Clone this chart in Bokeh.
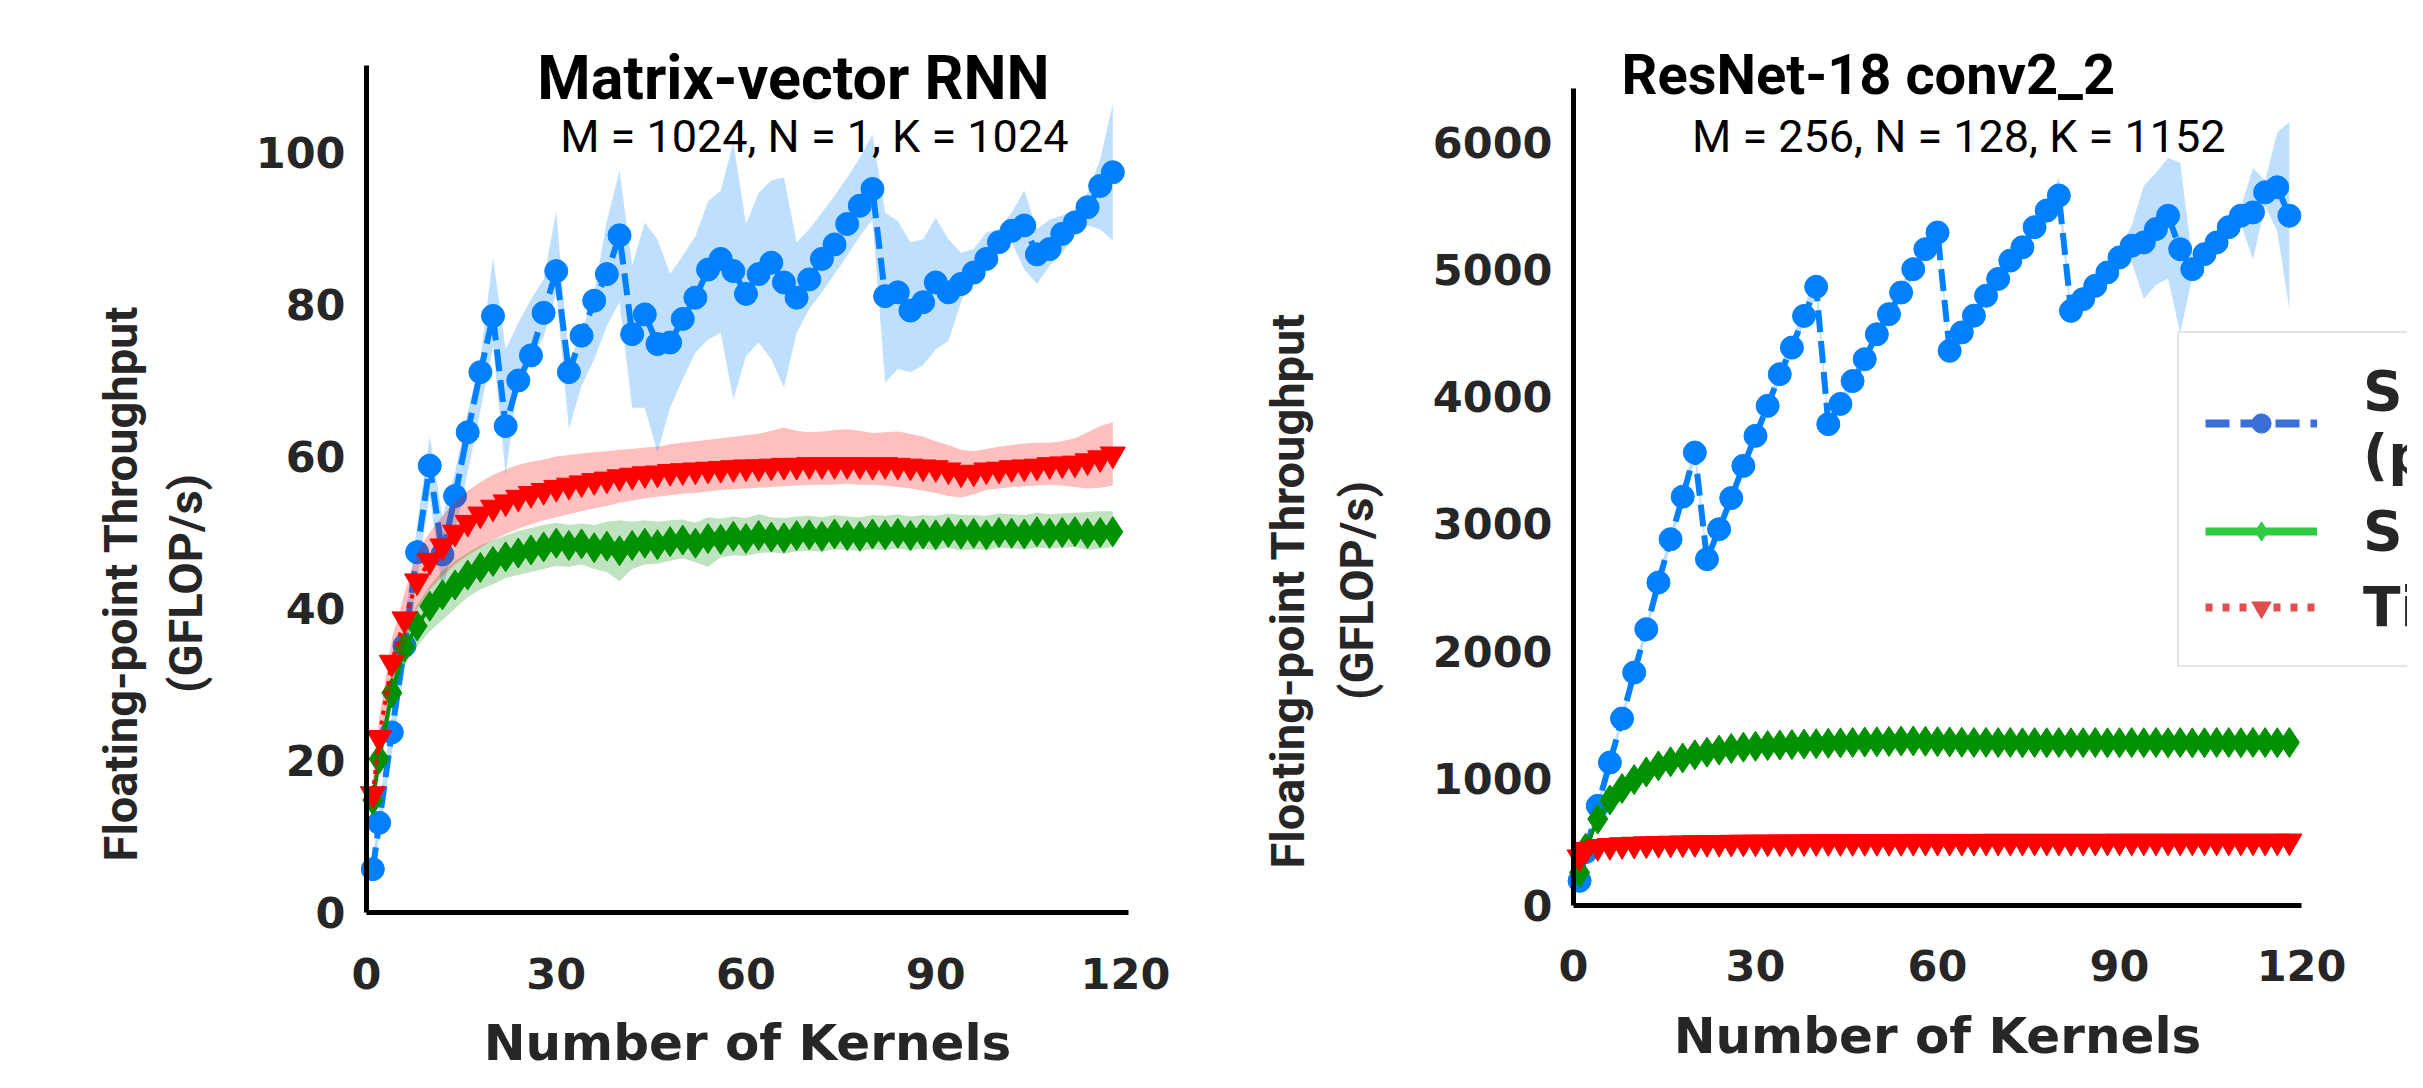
import math
from bokeh.plotting import figure
from bokeh.models import Range1d, Label, Legend, LegendItem, FixedTicker
from bokeh.layouts import row
from bokeh.embed import file_html
from bokeh.resources import INLINE

# ---------------- data ----------------
kernels = [1, 2, 4, 6, 8, 10, 12, 14, 16, 18, 20, 22, 24, 26, 28, 30, 32, 34, 36, 38,
           40, 42, 44, 46, 48, 50, 52, 54, 56, 58, 60, 62, 64, 66, 68, 70, 72, 74, 76, 78,
           80, 82, 84, 86, 88, 90, 92, 94, 96, 98, 100, 102, 104, 106, 108, 110, 112, 114, 116, 118]

x_ticks = [0, 30, 60, 90, 120]
rnn_y_ticks = [0, 20, 40, 60, 80, 100]
conv_y_ticks = [0, 1000, 2000, 3000, 4000, 5000, 6000]

# Matrix-vector RNN
rnn_blue = [5.7, 11.8, 23.7, 35.1, 47.4, 58.8, 47.1, 54.8, 63.2, 71.1, 78.5, 64.0, 70.0, 73.3, 78.9,
            84.4, 71.1, 75.9, 80.5, 84.0, 89.1, 76.1, 78.7, 74.8, 75.0, 78.1, 80.9, 84.6, 86.0, 84.4,
            81.4, 84.0, 85.5, 82.9, 80.9, 83.3, 86.0, 87.9, 90.6, 93.0, 95.2, 81.1, 81.6, 79.2, 80.3,
            82.9, 81.6, 82.7, 84.2, 86.0, 88.2, 89.7, 90.4, 86.6, 87.3, 89.3, 90.8, 92.8, 95.6, 97.4]
rnn_blue_lo = [4.5, 10.0, 21.0, 32.0, 44.0, 55.0, 42.0, 50.0, 58.0, 66.0, 74.6, 57.5, 70.2, 72.8, 75.7,
               81.6, 63.6, 69.3, 72.8, 77.2, 80.3, 66.4, 66.4, 60.5, 66.4, 70.2, 73.7, 75.4, 76.3, 67.5,
               73.2, 75.0, 72.8, 69.1, 76.3, 79.4, 81.6, 84.0, 86.4, 89.0, 91.2, 69.7, 71.5, 71.1, 72.0,
               74.1, 75.2, 80.3, 84.0, 85.6, 87.3, 88.2, 84.6, 82.7, 85.1, 86.8, 89.0, 90.4, 89.9, 88.4]
rnn_blue_hi = [7.0, 14.0, 26.0, 38.0, 51.0, 62.7, 52.0, 58.0, 65.8, 72.8, 86.2, 74.1, 77.6, 80.7, 83.3,
               92.3, 72.4, 76.3, 81.6, 91.0, 97.6, 85.1, 90.8, 88.6, 84.0, 86.4, 89.0, 93.6, 95.0, 101.3,
               90.6, 94.7, 96.3, 96.7, 88.2, 89.9, 92.1, 94.3, 96.7, 99.3, 102.4, 92.1, 91.0, 88.2, 88.6,
               91.4, 88.6, 86.8, 87.3, 89.5, 89.9, 92.1, 95.0, 89.9, 91.2, 91.7, 92.5, 94.7, 99.1, 106.4]

rnn_green = [14.8, 20.2, 28.9, 34.9, 37.7, 40.3, 41.8, 43.1, 44.4, 45.4, 46.2, 46.8, 47.3, 47.7, 48.1,
             48.6, 48.3, 48.5, 48.0, 48.2, 47.6, 48.3, 48.6, 48.4, 48.8, 49.0, 48.6, 49.2, 49.1, 49.5,
             49.2, 49.6, 49.4, 49.3, 49.6, 49.7, 49.5, 49.8, 49.6, 49.5, 49.8, 49.7, 49.9, 49.6, 49.8,
             49.7, 50.0, 49.8, 49.9, 49.7, 50.0, 49.9, 49.8, 50.1, 49.9, 50.0, 50.1, 49.9, 50.0, 50.1]
rnn_green_lo = [13.5, 18.8, 27.0, 32.5, 35.0, 37.0, 38.5, 40.0, 41.5, 42.5, 43.2, 44.0, 44.4, 44.8, 45.2,
                45.6, 45.5, 45.8, 45.2, 44.8, 43.6, 45.2, 45.8, 45.9, 46.3, 46.6, 46.1, 45.5, 46.7, 47.0,
                46.9, 47.3, 47.4, 47.2, 47.5, 47.6, 47.5, 47.8, 47.7, 47.6, 47.8, 47.7, 47.9, 47.6, 47.9,
                47.7, 48.0, 47.6, 47.8, 47.7, 48.0, 47.9, 47.8, 48.0, 47.9, 48.0, 48.1, 47.7, 47.9, 48.1]
rnn_green_hi = [16.0, 21.8, 31.0, 37.5, 40.5, 43.0, 45.0, 46.3, 47.3, 48.3, 49.0, 49.6, 50.2, 50.6, 51.0,
                51.3, 51.0, 51.2, 51.0, 51.4, 51.6, 51.4, 51.6, 51.4, 51.6, 51.7, 51.3, 52.0, 51.8, 52.1,
                51.9, 52.4, 52.0, 51.9, 52.1, 52.2, 52.0, 52.3, 52.1, 52.0, 52.3, 52.2, 52.4, 52.1, 52.3,
                52.2, 52.5, 52.3, 52.3, 52.2, 52.5, 52.4, 52.3, 52.6, 52.4, 52.5, 52.6, 52.7, 52.8, 52.8]

rnn_red = [15.6, 23.0, 32.9, 38.6, 43.6, 46.3, 48.2, 50.0, 51.3, 52.4, 53.3, 54.0, 54.6, 55.1, 55.5,
           55.9, 56.2, 56.5, 56.8, 57.0, 57.3, 57.5, 57.7, 57.8, 58.0, 58.1, 58.2, 58.3, 58.4, 58.5,
           58.6, 58.6, 58.7, 58.8, 58.8, 58.9, 58.9, 58.9, 58.9, 58.9, 58.8, 58.9, 58.8, 58.7, 58.6,
           58.5, 58.2, 57.8, 57.9, 58.2, 58.3, 58.5, 58.6, 58.7, 58.9, 59.0, 59.1, 59.4, 59.8, 60.3]
rnn_red_lo = [14.0, 21.0, 30.0, 35.5, 40.0, 42.5, 44.2, 45.8, 47.0, 48.0, 49.0, 49.8, 50.5, 51.1, 51.6,
              52.0, 52.4, 52.8, 53.2, 53.5, 53.9, 54.2, 54.5, 54.7, 54.9, 55.1, 55.2, 55.4, 55.6, 55.7,
              55.8, 55.9, 56.0, 56.1, 56.2, 56.3, 56.3, 56.3, 56.4, 56.3, 56.3, 56.2, 56.0, 55.8, 55.5,
              55.2, 54.8, 54.6, 55.0, 55.6, 55.8, 56.0, 56.1, 56.2, 56.3, 56.2, 56.0, 55.8, 55.9, 56.2]
rnn_red_hi = [17.5, 25.5, 36.0, 42.0, 47.5, 50.0, 52.2, 54.0, 55.5, 56.6, 57.6, 58.3, 58.9, 59.3, 59.6,
              60.0, 60.2, 60.4, 60.6, 60.7, 60.9, 61.0, 61.2, 61.3, 61.6, 61.8, 62.0, 62.2, 62.4, 62.6,
              62.8, 63.0, 63.4, 63.8, 63.4, 63.2, 63.3, 63.5, 63.6, 63.4, 63.1, 63.2, 63.3, 63.0, 62.6,
              62.0, 61.5, 60.9, 60.7, 61.0, 61.3, 61.5, 61.7, 61.8, 61.8, 62.0, 62.4, 63.2, 64.0, 64.5]

# ResNet-18 conv2_2
conv_blue = [194, 420, 784, 1124, 1470, 1832, 2173, 2540, 2880, 3215, 3562, 2723, 2959, 3204, 3457,
             3693, 3929, 4178, 4387, 4636, 4865, 3785, 3944, 4124, 4296, 4492, 4650, 4820, 5004, 5161,
             5292, 4362, 4506, 4638, 4795, 4927, 5071, 5176, 5334, 5465, 5583, 4676, 4768, 4873, 4978,
             5096, 5188, 5214, 5319, 5424, 5161, 5004, 5122, 5214, 5334, 5424, 5450, 5608, 5648, 5424]
conv_blue_lo = [170, 390, 750, 1090, 1430, 1790, 2130, 2490, 2830, 3160, 3500, 2680, 2910, 3150, 3400,
                3640, 3880, 4120, 4330, 4570, 4790, 3740, 3900, 4070, 4240, 4440, 4600, 4760, 4950, 5100,
                5230, 4320, 4460, 4590, 4740, 4870, 5010, 5110, 5270, 5400, 5500, 4630, 4720, 4820, 4920,
                5030, 5060, 4770, 4880, 4930, 4500, 4940, 5060, 5150, 5270, 5360, 5080, 5500, 5300, 4690]
conv_blue_hi = [220, 450, 820, 1160, 1510, 1870, 2220, 2590, 2930, 3270, 3630, 2770, 3010, 3260, 3510,
                3750, 3980, 4240, 4450, 4700, 4980, 3830, 3990, 4180, 4350, 4550, 4700, 4880, 5060, 5220,
                5350, 4400, 4550, 4690, 4850, 4980, 5130, 5240, 5400, 5530, 5725, 4720, 4820, 4930, 5040,
                5160, 5350, 5660, 5760, 5880, 5840, 5080, 5190, 5280, 5400, 5490, 5800, 5700, 6080, 6160]

conv_green = [260, 450, 680, 830, 920, 990, 1050, 1098, 1130, 1160, 1185, 1205, 1222, 1235, 1245,
              1252, 1258, 1262, 1266, 1269, 1272, 1276, 1279, 1282, 1285, 1287, 1290, 1293, 1294, 1291,
              1288, 1286, 1284, 1282, 1283, 1281, 1282, 1280, 1281, 1280, 1281, 1279, 1280, 1281, 1279,
              1280, 1281, 1280, 1282, 1280, 1281, 1279, 1280, 1282, 1281, 1280, 1282, 1281, 1280, 1282]

conv_red = [380, 440, 462, 470, 476, 480, 483, 486, 488, 490, 492, 493, 494, 495, 496,
            497, 497, 498, 498, 499, 499, 500, 500, 500, 501, 501, 501, 501, 502, 502,
            502, 502, 502, 502, 503, 503, 503, 503, 503, 503, 503, 503, 503, 503, 503,
            504, 504, 504, 504, 504, 504, 504, 504, 504, 504, 504, 504, 504, 504, 505]

series_labels = ["Spatial multiplexing\n(proposed)", "Spatial sharing (streams)", "Time slicing"]

# ---------------- style ----------------
BLUE = "#0080ff"
GREEN = "#009100"
RED = "#ff0000"
TXT = "#262626"
TICK_FONT = "DejaVu Sans"
TITLE_FONT = "Roboto"


def style(p, yticks, xbounds, ybounds):
    p.xaxis.ticker = FixedTicker(ticks=x_ticks)
    p.yaxis.ticker = FixedTicker(ticks=yticks)
    p.xaxis.fixed_location = 0
    p.yaxis.fixed_location = 0
    p.xaxis.bounds = xbounds
    p.yaxis.bounds = ybounds
    for ax in (p.xaxis[0], p.yaxis[0]):
        ax.axis_line_width = 5
        ax.axis_line_color = "black"
        ax.major_tick_line_color = None
        ax.minor_tick_line_color = None
        ax.major_tick_out = 0
        ax.major_tick_in = 0
        ax.minor_tick_out = 0
        ax.minor_tick_in = 0
        ax.major_label_text_font = TICK_FONT
        ax.major_label_text_font_style = "bold"
        ax.major_label_text_font_size = "43px"
        ax.major_label_text_color = TXT
    p.xaxis.major_label_standoff = 45
    p.yaxis.major_label_standoff = 21
    p.xaxis.axis_label = "Number of Kernels"
    p.xaxis.axis_label_text_font = TICK_FONT
    p.xaxis.axis_label_text_font_style = "bold"
    p.xaxis.axis_label_text_font_size = "50px"
    p.xaxis.axis_label_text_color = TXT
    p.xaxis.axis_label_standoff = 22
    p.grid.visible = False
    p.outline_line_color = None
    p.background_fill_color = "white"
    p.border_fill_color = "white"


def draw_series(p, x, blue, blo, bhi, green, glo, ghi, red, rlo, rhi):
    if blo is not None:
        p.varea(x=x, y1=blo, y2=bhi, fill_color=BLUE, fill_alpha=0.25)
    p.line(x, blue, line_color=BLUE, line_width=6, line_dash="22 9")
    p.scatter(x, blue, marker="circle", size=23, fill_color=BLUE, line_color=BLUE)
    if glo is not None:
        p.varea(x=x, y1=glo, y2=ghi, fill_color=GREEN, fill_alpha=0.25)
    p.line(x, green, line_color=GREEN, line_width=4)
    p.scatter(x, green, marker="diamond", size=30, fill_color=GREEN, line_color=GREEN)
    if rlo is not None:
        p.varea(x=x, y1=rlo, y2=rhi, fill_color=RED, fill_alpha=0.25)
    p.line(x, red, line_color=RED, line_width=4, line_dash="4 6")
    p.scatter(x, red, marker="inverted_triangle", size=25, fill_color=RED, line_color=RED)


def add_text(p, x, y, text, font, size, bold=True, angle=0.0, color="black", baseline="alphabetic"):
    p.add_layout(Label(x=x, y=y, text=text, text_font=font, text_font_size=size,
                       text_font_style="bold" if bold else "normal", text_color=color,
                       text_align="center", text_baseline=baseline, angle=angle))


# ---------------- left: Matrix-vector RNN ----------------
p1 = figure(width=1180, height=1072, output_backend="svg", toolbar_location=None, title=None,
            x_range=Range1d(-57.87, 128.70), y_range=Range1d(-21.05, 120.0), min_border=0)
style(p1, rnn_y_ticks, (0, 120.5), (0, 111.45))
draw_series(p1, kernels, rnn_blue, rnn_blue_lo, rnn_blue_hi, rnn_green, rnn_green_lo, rnn_green_hi,
            rnn_red, rnn_red_lo, rnn_red_hi)
add_text(p1, 67.5, 109.8, "Matrix-vector RNN", TITLE_FONT, "61px")
add_text(p1, 70.8, 102.1, "M = 1024, N = 1, K = 1024", TITLE_FONT, "45px", bold=False)
add_text(p1, -38.9, 43.3, "Floating-point Throughput", TITLE_FONT, "47px", angle=math.pi / 2,
         color=TXT, baseline="middle")
add_text(p1, -28.6, 43.3, "(GFLOP/s)", TITLE_FONT, "47px", angle=math.pi / 2, color=TXT, baseline="middle")

# ---------------- right: ResNet-18 conv2_2 ----------------
p2 = figure(width=1227, height=1072, output_backend="svg", toolbar_location=None, title=None,
            x_range=Range1d(-64.78, 137.47), y_range=Range1d(-1313.2, 7116.4), min_border=0)
style(p2, conv_y_ticks, (0, 120), (0, 6424))
draw_series(p2, kernels, conv_blue, conv_blue_lo, conv_blue_hi, conv_green, None, None,
            conv_red, None, None)
add_text(p2, 48.6, 6527, "ResNet-18 conv2_2", TITLE_FONT, "56px")
add_text(p2, 63.5, 6047, "M = 256, N = 128, K = 1152", TITLE_FONT, "45px", bold=False)
add_text(p2, -47.1, 2477, "Floating-point Throughput", TITLE_FONT, "47px", angle=math.pi / 2,
         color=TXT, baseline="middle")
add_text(p2, -35.8, 2477, "(GFLOP/s)", TITLE_FONT, "47px", angle=math.pi / 2, color=TXT, baseline="middle")

# legend renderers: same data, drawn muted (invisible) in the plot, normal in the legend
LEG_BLUE, LEG_GREEN, LEG_RED = "#3a6fd8", "#2ecc40", "#e04e50"
lb1 = p2.line(kernels, conv_blue, line_color=LEG_BLUE, line_width=8, line_dash="24 11", muted_alpha=0)
lb2 = p2.scatter(kernels, conv_blue, marker="circle", fill_color=LEG_BLUE, line_color=LEG_BLUE,
                 muted_alpha=0)
lg1 = p2.line(kernels, conv_green, line_color=LEG_GREEN, line_width=8, muted_alpha=0)
lg2 = p2.scatter(kernels, conv_green, marker="diamond", fill_color=LEG_GREEN, line_color=LEG_GREEN,
                 muted_alpha=0)
lr1 = p2.line(kernels, conv_red, line_color=LEG_RED, line_width=8, line_dash="7 10", muted_alpha=0)
lr2 = p2.scatter(kernels, conv_red, marker="inverted_triangle", fill_color=LEG_RED, line_color=LEG_RED,
                 muted_alpha=0)
for r in (lb1, lb2, lg1, lg2, lr1, lr2):
    r.muted = True

legend = Legend(items=[LegendItem(label=series_labels[0], renderers=[lb1, lb2]),
                       LegendItem(label=series_labels[1], renderers=[lg1, lg2]),
                       LegendItem(label=series_labels[2], renderers=[lr1, lr2])],
                location=(997, 405))
legend.label_text_font = TICK_FONT
legend.label_text_font_style = "bold"
legend.label_text_font_size = "55px"
legend.label_text_color = TXT
legend.glyph_width = 112
legend.glyph_height = 48
legend.label_standoff = 46
legend.padding = 26
legend.spacing = 12
legend.margin = 0
legend.border_line_color = "#cccccc"
legend.border_line_width = 2
legend.background_fill_color = "white"
legend.background_fill_alpha = 0.85
p2.add_layout(legend)

layout = row(p1, p2)
open("out.html", "w").write(file_html(layout, INLINE))
